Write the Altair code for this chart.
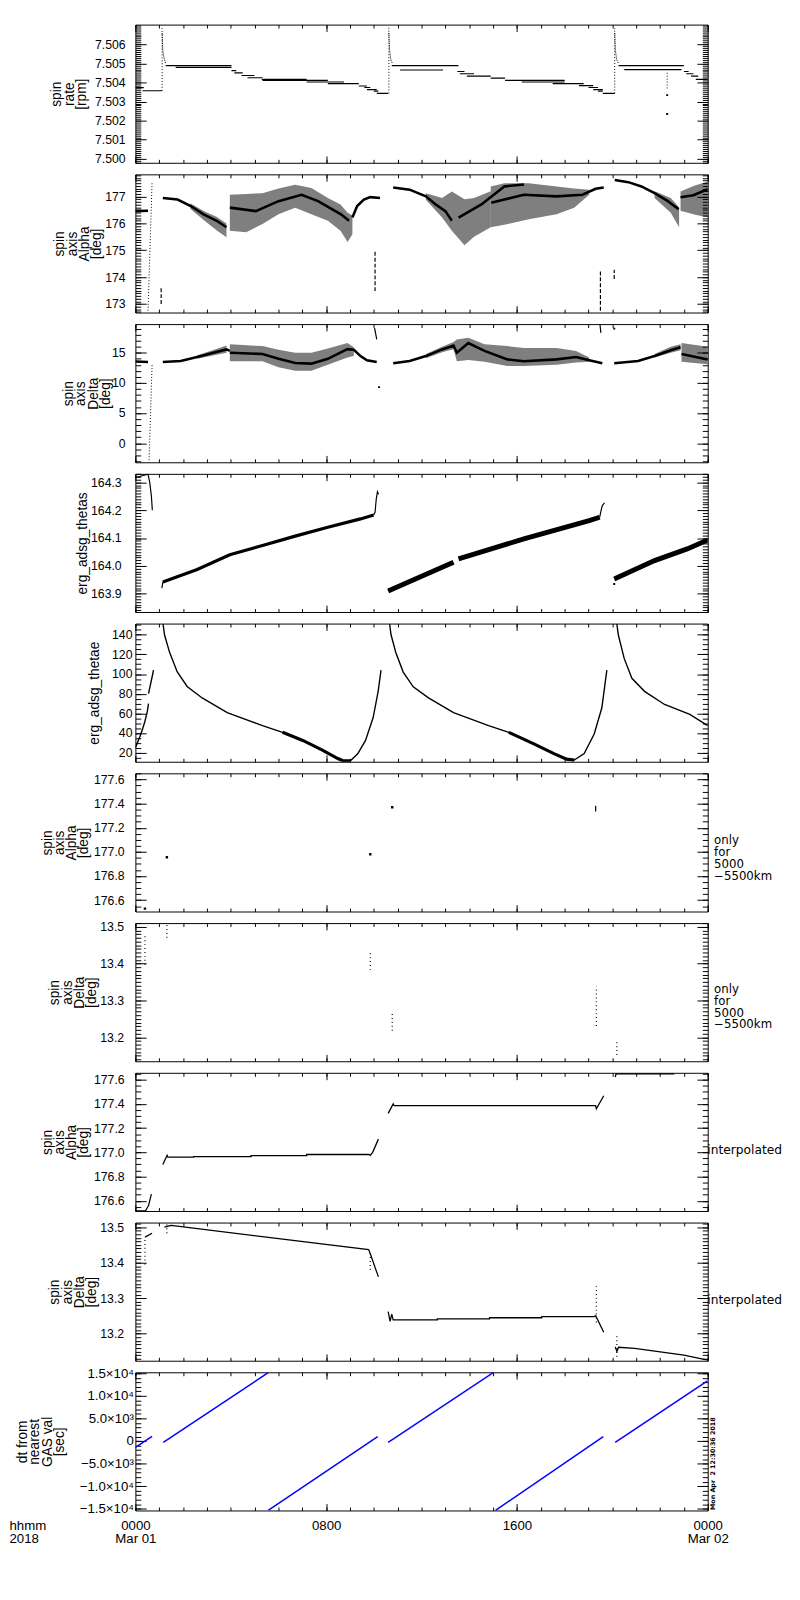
import math
import altair as alt
import pandas as pd

W, H = 584, 141
FONT = "Liberation Sans"

# ---------------- shared time axis ----------------
HOUR_TICKS = [0, 8, 16, 24]
HOUR_LABELS = [["0000", "Mar 01"], "0800", "1600", ["0000", "Mar 02"]]
HOUR_MINOR = list(range(25))
TIME_UNIT_LABEL = ["hhmm", "2018"]

# ---------------- panel 1: spin rate ----------------
RATE_TICKS = [7.500, 7.501, 7.502, 7.503, 7.504, 7.505, 7.506]
RATE_T0 = [0.00, 0.30, 1.27, 1.69, 4.03, 4.15, 4.45, 4.70, 5.30, 5.33, 7.18, 8.07, 9.37, 9.60, 9.71, 10.00, 10.12,
           10.75, 11.10, 13.50, 13.60, 13.90, 14.90, 15.50, 16.20, 17.50, 18.60, 19.00, 19.20, 19.40, 19.60,
           20.26, 20.50, 23.00, 23.10, 23.30, 23.50]
RATE_T1 = [0.35, 1.12, 4.03, 4.03, 4.23, 4.50, 4.99, 5.33, 7.18, 8.07, 8.75, 9.37, 9.71, 9.85, 10.12, 10.19, 10.60,
           13.55, 12.90, 13.80, 14.20, 14.90, 15.50, 18.00, 18.00, 18.80, 19.20, 19.40, 19.60, 19.60, 20.10,
           23.00, 22.90, 23.20, 23.40, 23.60, 24.00]
RATE_V = [7.50373, 7.50357, 7.50489, 7.50480, 7.50463, 7.50451, 7.50437, 7.50425, 7.50417, 7.50411, 7.50403,
          7.50394, 7.50382, 7.50374, 7.50363, 7.50355, 7.50343,
          7.50489, 7.50466, 7.50458, 7.50446, 7.50434, 7.50423, 7.50411, 7.50403, 7.50394, 7.50384, 7.50374,
          7.50363, 7.50355, 7.50343,
          7.50489, 7.50468, 7.50458, 7.50446, 7.50434, 7.50417]
RATE_SPIKE_T = [1.12, 10.63, 20.10, 22.30]
RATE_SPIKE_LO = [7.50357, 7.50343, 7.50343, 7.50369]
RATE_SPIKE_HI = [7.50685, 7.50694, 7.50686, 7.50460]
RATE_DECAY_T = [1.12, 1.15, 1.20, 1.27, 10.63, 10.66, 10.71, 10.78, 20.10, 20.13, 20.18, 20.26]
RATE_DECAY_V = [7.5066, 7.5057, 7.5053, 7.5050, 7.5066, 7.5057, 7.5052, 7.5050, 7.5066, 7.5057, 7.5052, 7.5050]
RATE_DECAY_SEG = [0, 0, 0, 0, 1, 1, 1, 1, 2, 2, 2, 2]
RATE_PT_T = [22.30, 22.30]
RATE_PT_V = [7.50334, 7.50235]

# ---------------- panel 2: spin axis Alpha ----------------
ALPHA_TICKS = [173, 174, 175, 176, 177]
ALPHA_T = [0.00, 0.53,
           1.15, 1.77, 2.32, 2.86, 3.41, 3.82,
           3.96, 5.05, 6.00, 6.97, 7.66, 8.62, 8.96,
           9.10, 9.30, 9.58, 9.85, 10.26,
           10.81, 11.50, 12.18, 12.59, 13.00, 13.27,
           13.55, 14.51, 15.47, 16.30,
           14.92, 16.29, 17.66, 18.75, 19.30, 19.64,
           20.10, 20.67, 21.22, 21.77, 22.30, 22.78,
           22.86, 23.40, 24.00]
ALPHA_V = [176.46, 176.47,
           176.95, 176.89, 176.65, 176.34, 176.10, 175.86,
           176.59, 176.46, 176.83, 177.07, 176.83, 176.34, 176.10,
           176.22, 176.65, 176.89, 176.98, 176.95,
           177.34, 177.26, 177.01, 176.71, 176.46, 176.10,
           176.22, 176.71, 177.38, 177.45,
           176.77, 177.07, 177.01, 177.07, 177.29, 177.34,
           177.62, 177.54, 177.38, 177.13, 176.85, 176.53,
           176.98, 177.05, 177.28]
ALPHA_SEG = [0, 0, 1, 1, 1, 1, 1, 1, 2, 2, 2, 2, 2, 2, 2, 3, 3, 3, 3, 3, 4, 4, 4, 4, 4, 4,
             5, 5, 5, 5, 6, 6, 6, 6, 6, 6, 7, 7, 7, 7, 7, 7, 8, 8, 8]
ALPHA_BAND_T = [2.30, 2.90, 3.40, 3.82,
                3.96, 4.65, 5.33, 6.00, 6.70, 7.38, 8.07, 8.60, 8.90, 9.10,
                12.18, 12.86, 13.27, 13.80, 14.20, 14.90,
                14.90, 15.47, 16.50, 17.66, 18.40, 19.03,
                21.77, 22.45, 22.80,
                22.86, 23.40, 24.00]
ALPHA_BAND_LO = [176.55, 176.10, 175.75, 175.49,
                 175.73, 175.67, 175.98, 176.34, 176.59, 176.34, 176.10, 175.73, 175.31, 175.60,
                 176.88, 176.22, 175.73, 175.19, 175.50, 175.86,
                 175.86, 175.95, 176.16, 176.34, 176.59, 177.07,
                 176.95, 176.40, 175.86,
                 176.47, 176.34, 176.22]
ALPHA_BAND_HI = [176.75, 176.45, 176.25, 176.00,
                 177.07, 177.10, 177.13, 177.30, 177.44, 177.32, 176.95, 176.71, 176.40, 176.30,
                 177.13, 176.95, 177.19, 176.90, 176.95, 177.20,
                 177.38, 177.50, 177.50, 177.38, 177.30, 177.26,
                 177.20, 176.95, 176.60,
                 177.19, 177.40, 177.56]
ALPHA_BAND_SEG = [0, 0, 0, 0, 1, 1, 1, 1, 1, 1, 1, 1, 1, 1, 2, 2, 2, 2, 2, 2, 3, 3, 3, 3, 3, 3, 4, 4, 4, 5, 5, 5]
ALPHA_DOT_T = [0.53, 0.70]
ALPHA_DOT_V = [172.75, 177.56]
ALPHA_DASH_T = [1.08, 10.05, 19.50, 20.08]
ALPHA_DASH_LO = [173.00, 173.48, 172.75, 173.93]
ALPHA_DASH_HI = [173.60, 175.00, 174.27, 174.27]

# ---------------- panel 3: spin axis Delta ----------------
DELTA_TICKS = [0, 5, 10, 15]
DELTA_T = [0.00, 0.53,
           1.15, 1.90, 2.59, 3.27, 3.82, 3.96,
           3.96, 5.33, 6.00, 6.70, 7.38, 8.07, 8.89, 9.16, 9.44, 9.71, 10.12,
           10.03, 10.12,
           10.81, 11.50, 12.18, 12.86, 13.34, 13.48, 13.96, 14.64, 15.60, 16.29, 17.66, 18.48, 19.03, 19.58,
           19.48, 19.52,
           20.08, 21.08, 21.77, 22.45, 22.86,
           22.90, 24.00]
DELTA_V = [13.55, 13.45,
           13.47, 13.64, 14.30, 15.00, 15.55, 15.30,
           15.00, 14.80, 14.00, 13.30, 13.20, 14.00, 15.60, 15.50, 14.45, 13.75, 13.47,
           19.10, 17.20,
           13.25, 13.64, 14.45, 15.55, 16.20, 15.00, 16.60, 15.30, 13.90, 13.60, 13.90, 14.30, 13.75, 13.25,
           19.75, 18.30,
           13.25, 13.64, 14.45, 15.40, 15.90,
           14.80, 13.90]
DELTA_SEG = [0, 0, 1, 1, 1, 1, 1, 1, 2, 2, 2, 2, 2, 2, 2, 2, 2, 2, 2, 3, 3,
             4, 4, 4, 4, 4, 4, 4, 4, 4, 4, 4, 4, 4, 4, 5, 5, 6, 6, 6, 6, 6, 7, 7]
DELTA_BAND_T = [2.60, 3.30, 3.82,
                3.96, 5.33, 6.00, 6.70, 7.38, 8.07, 8.89, 9.16,
                12.18, 12.86, 13.34, 13.48, 13.96, 14.64, 15.60, 16.29, 17.66, 18.48, 19.03,
                21.77, 22.45, 22.86,
                22.90, 24.00]
DELTA_BAND_LO = [14.00, 14.60, 15.00,
                 13.60, 13.60, 12.60, 12.00, 12.00, 13.00, 14.20, 14.45,
                 14.10, 15.10, 15.60, 13.60, 13.80, 13.50, 12.80, 12.80, 13.00, 13.40, 13.50,
                 14.20, 15.00, 15.40,
                 13.50, 13.10]
DELTA_BAND_HI = [14.60, 15.50, 16.20,
                 16.40, 16.10, 15.50, 15.00, 15.00, 15.70, 16.60, 15.90,
                 14.80, 16.00, 16.80, 17.20, 17.50, 16.40, 16.10, 15.80, 15.80, 15.30, 14.20,
                 14.80, 16.00, 16.40,
                 16.60, 16.00]
DELTA_BAND_SEG = [0, 0, 0, 1, 1, 1, 1, 1, 1, 1, 1, 2, 2, 2, 2, 2, 2, 2, 2, 2, 2, 2, 3, 3, 3, 4, 4]
DELTA_DOT_T = [0.57, 0.70]
DELTA_DOT_V = [-3.30, 13.10]
DELTA_PT_T = [10.22, 20.08]
DELTA_PT_V = [9.30, 19.00]

# ---------------- panel 4: erg_adsg_thetas ----------------
THETAS_TICKS = [163.9, 164.0, 164.1, 164.2, 164.3]
THETAS_T = [0.00, 0.53, 0.60, 0.67, 0.71,
            1.15, 2.59, 3.96, 5.33, 6.70, 8.07, 9.44, 9.99,
            1.11, 1.15,
            9.99, 10.05, 10.10, 10.15, 10.20,
            10.60, 10.81, 13.34,
            13.55, 16.29, 19.03, 19.47,
            19.47, 19.53, 19.58, 19.67,
            20.08, 21.77, 23.14, 24.00]
THETAS_V = [164.318, 164.330, 164.300, 164.252, 164.200,
            163.942, 163.987, 164.040, 164.073, 164.107, 164.139, 164.169, 164.183,
            163.920, 163.942,
            164.183, 164.193, 164.240, 164.267, 164.258,
            163.910, 163.918, 164.013,
            164.025, 164.097, 164.163, 164.175,
            164.175, 164.200, 164.217, 164.227,
            163.953, 164.019, 164.061, 164.093]
THETAS_SEG = [0, 0, 0, 0, 0, 1, 1, 1, 1, 1, 1, 1, 1, 2, 2, 3, 3, 3, 3, 3,
              4, 4, 4, 5, 5, 5, 5, 6, 6, 6, 6, 7, 7, 7, 7]
THETAS_PT_T = [20.08]
THETAS_PT_V = [163.935]

# ---------------- panel 5: erg_adsg_thetae ----------------
THETAE_TICKS = [20, 40, 60, 80, 100, 120, 140]
THETAE_T = [0.00, 0.10, 0.20, 0.30, 0.40, 0.50, 0.55,
            0.55, 0.62, 0.70, 0.76,
            1.16, 1.22, 1.43, 1.75, 2.17, 2.80, 3.85, 5.33, 6.17, 7.02, 7.86, 8.49, 8.70, 9.02, 9.33, 9.65,
            9.97, 10.18, 10.30,
            10.66, 10.72, 10.92, 11.23, 11.65, 12.29, 13.34, 14.81, 15.66, 16.71, 17.55, 18.08, 18.40, 18.82,
            19.24, 19.56, 19.77,
            20.19, 20.25, 20.50, 20.82, 21.35, 22.19, 23.25, 24.00,
            6.17, 7.02, 7.86, 8.49, 8.70, 9.02,
            15.66, 16.71, 17.55, 18.08, 18.40]
THETAE_V = [25.0, 31.0, 37.0, 44.0, 52.0, 62.0, 70.0,
            80.0, 88.0, 97.0, 104.0,
            151.0, 140.0, 122.4, 102.4, 87.4, 75.7, 60.7, 47.4, 40.7, 32.4, 22.4, 14.0, 11.7, 11.7, 19.0, 32.4,
            55.7, 82.4, 104.0,
            151.0, 140.0, 122.0, 102.0, 87.0, 75.7, 60.7, 47.4, 40.7, 29.0, 19.0, 13.4, 12.4, 19.0,
            39.0, 65.7, 104.0,
            151.0, 140.0, 115.7, 95.7, 82.4, 69.0, 59.0, 47.4,
            40.7, 32.4, 22.4, 14.0, 11.7, 11.7,
            40.7, 29.0, 19.0, 13.4, 12.4]
THETAE_SEG = [0] * 7 + [1] * 4 + [2] * 19 + [3] * 17 + [4] * 8 + [5] * 6 + [6] * 5

# ---------------- panel 6: Alpha only for 5000-5500 km ----------------
A5K_TICKS = [176.6, 176.8, 177.0, 177.2, 177.4, 177.6]
A5K_PT_T = [0.40, 1.32, 9.85, 10.77]
A5K_PT_V = [176.53, 176.956, 176.98, 177.37]
A5K_BAR_T = [19.30]
A5K_BAR_LO = [177.335]
A5K_BAR_HI = [177.383]

# ---------------- panel 7: Delta only for 5000-5500 km ----------------
D5K_TICKS = [13.2, 13.3, 13.4, 13.5]
D5K_T = [0.40, 1.32, 9.85, 10.77, 19.33, 20.19]
D5K_LO = [13.397, 13.470, 13.383, 13.218, 13.231, 13.152]
D5K_HI = [13.477, 13.507, 13.434, 13.267, 13.338, 13.194]

# ---------------- panel 8: Alpha interpolated ----------------
AINT_T = [0.00, 0.42, 0.55, 0.67,
          1.15, 1.33, 1.36, 2.45, 2.45, 4.85, 4.85, 7.18, 7.18, 9.80, 9.85, 9.95, 10.19,
          10.60, 10.81, 10.85, 19.30, 19.33, 19.64,
          20.12, 20.16, 22.60]
AINT_V = [176.515, 176.515, 176.560, 176.655,
          176.900, 176.975, 176.960, 176.960, 176.965, 176.965, 176.973, 176.973, 176.982, 176.982, 176.975,
          177.000, 177.109,
          177.322, 177.400, 177.385, 177.385, 177.360, 177.467,
          177.622, 177.649, 177.649]
AINT_SEG = [0] * 4 + [1] * 13 + [2] * 6 + [3] * 3

# ---------------- panel 9: Delta interpolated ----------------
DINT_T = [0.40, 0.70,
          1.22, 1.50, 9.78, 9.85, 10.19,
          10.60, 10.68, 10.75, 10.81, 12.66, 12.66, 14.85, 14.85, 17.04, 17.04, 19.23, 19.30, 19.64,
          20.12, 20.19, 20.26, 20.94, 23.00, 24.00]
DINT_V = [13.472, 13.483,
          13.500, 13.505, 13.437, 13.425, 13.360,
          13.262, 13.235, 13.255, 13.239, 13.239, 13.242, 13.242, 13.245, 13.245, 13.248, 13.248, 13.251, 13.204,
          13.163, 13.150, 13.162, 13.159, 13.140, 13.126]
DINT_SEG = [0] * 2 + [1] * 5 + [2] * 13 + [3] * 6
DINT_DOT_T = [0.40, 1.32, 9.85, 19.33, 20.19]
DINT_DOT_LO = [13.395, 13.483, 13.380, 13.232, 13.135]
DINT_DOT_HI = [13.472, 13.510, 13.435, 13.334, 13.195]

# ---------------- panel 10: dt from nearest GAS val ----------------
DT_TICKS = [-15000, -10000, -5000, 0, 5000, 10000, 15000]
DT_TICK_LABELS = ["\u22121.5\u00d710\u2074", "\u22121.0\u00d710\u2074", "\u22125.0\u00d710\u00b3", "0",
                  "5.0\u00d710\u00b3", "1.0\u00d710\u2074", "1.5\u00d710\u2074"]
DT_T = [0.00, 0.70, 1.17, 5.57, 5.57, 10.16, 10.60, 15.02, 15.10, 19.62, 20.12, 23.99]
DT_V = [-1388, 1016, -295, 15150, -15370, 950, -295, 15200, -15370, 950, -295, 13320]
DT_SEG = [0, 0, 1, 1, 2, 2, 3, 3, 4, 4, 5, 5]

STAMP = "Mon Apr\u00a0 2 12:30:36 2018"
NOTE_5K = ["\u00a0only", "for", "5000", "\u22125500km"]
NOTE_INTERP = "interpolated"


# ================= helpers =================
def xs():
    return alt.Scale(domain=[0, 24], nice=False, zero=False)


def ys(dom):
    return alt.Scale(domain=dom, nice=False, zero=False)


def X(field="t"):
    return alt.X(f"{field}:Q", scale=xs(), axis=None)


def Y(field, dom):
    return alt.Y(f"{field}:Q", scale=ys(dom), axis=None)


def frame(t, v, seg):
    return pd.DataFrame({"t": t, "v": v, "seg": seg, "i": list(range(len(t)))})


def lines(df, dom, segs=None, width=1.2, color="black", dash=None):
    d = df if segs is None else df[df["seg"].isin(segs)]
    kw = dict(color=color, strokeWidth=width, clip=True)
    if dash is not None:
        kw["strokeDash"] = dash
    return alt.Chart(d).mark_line(**kw).encode(x=X(), y=Y("v", dom), detail="seg:N", order="i:Q")


def bands(t, lo, hi, seg, dom, opacity=0.5):
    df = pd.DataFrame({"t": t, "lo": lo, "hi": hi, "seg": seg})
    return alt.Chart(df).mark_area(color="black", opacity=opacity, clip=True).encode(
        x=X(), y=Y("lo", dom), y2="hi:Q", detail="seg:N")


def vrules(t, lo, hi, dom, dash=None, width=1.0):
    df = pd.DataFrame({"t": t, "lo": lo, "hi": hi})
    kw = dict(color="black", strokeWidth=width, clip=True)
    if dash is not None:
        kw["strokeDash"] = dash
    return alt.Chart(df).mark_rule(**kw).encode(x=X(), y=Y("lo", dom), y2="hi:Q")


def points(t, v, dom, size=5):
    df = pd.DataFrame({"t": t, "v": v})
    return alt.Chart(df).mark_square(color="black", size=size, opacity=1, clip=True).encode(x=X(), y=Y("v", dom))


def tick_list(lo, hi, step, nd):
    k0 = math.ceil(lo / step - 1e-9)
    k1 = math.floor(hi / step + 1e-9)
    return [round(k * step, nd) for k in range(k0, k1 + 1)]


def js(lab):
    if isinstance(lab, list):
        return "[" + ", ".join("'" + s + "'" for s in lab) + "]"
    return "'" + lab + "'"


def label_expr(values, labels):
    parts = [f"abs(datum.value - ({v})) < 1e-6 ? {js(l)} : " for v, l in zip(values, labels)]
    return "".join(parts) + "''"


def tick_axis(orient, offset, values, size):
    return alt.Axis(orient=orient, offset=offset, values=values, ticks=True, tickSize=size, tickWidth=1,
                    tickColor="black", labels=False, domain=False, grid=False, title=None)


def note_axis(title, tx, ty, angle=0, align="left", baseline="middle", size=12, lh=12,
              weight="normal", font="DejaVu Sans"):
    return alt.Axis(orient="right", ticks=False, labels=False, domain=False, grid=False, title=title,
                    titleX=tx, titleY=ty, titleAngle=angle, titleAlign=align, titleBaseline=baseline,
                    titleFontSize=size, titleLineHeight=lh, titleFontWeight=weight, titleFont=font,
                    titleColor="black")


def carrier(dom, xa, ya):
    df = pd.DataFrame({"t": [0.0, 24.0], "v": [dom[0], dom[1]]})
    return alt.Chart(df).mark_point(opacity=0, size=1).encode(
        x=alt.X("t:Q", scale=xs(), axis=xa),
        y=alt.Y("v:Q", scale=ys(dom), axis=ya))


def panel(dom, major, minor_step, nd, title, tx, lp, data_layers, fmt=None, expr=None,
          last=False, note=None, lab_size=12.5):
    minor = tick_list(dom[0], dom[1], minor_step, nd)
    ykw = dict(orient="left", values=major, ticks=False, domain=False, grid=False, labelPadding=lp,
               labelFontSize=lab_size, labelFlush=False, labelOverlap=False, labelColor="black",
               title=title, titleX=tx, titleY=H / 2, titleAngle=270, titleAlign="center",
               titleBaseline="top", titleLineHeight=12.5, titleFontSize=14, titleFontWeight="normal",
               titleColor="black")
    if expr is not None:
        ykw["labelExpr"] = expr
    else:
        ykw["format"] = fmt
    ymain = alt.Axis(**ykw)
    xmain = None
    if last:
        xmain = alt.Axis(orient="bottom", values=HOUR_TICKS, labelExpr=label_expr(HOUR_TICKS, HOUR_LABELS),
                         ticks=False, domain=False, grid=False, labelPadding=8, labelFontSize=13.5,
                         labelLineHeight=13.5, labelFlush=False, labelOverlap=False, labelColor="black",
                         title=TIME_UNIT_LABEL, titleX=-129, titleY=8, titleAlign="left",
                         titleBaseline="top", titleAngle=0, titleFontSize=13.5, titleLineHeight=13.5,
                         titleFontWeight="normal", titleColor="black")
    layers = list(data_layers)
    layers.append(carrier(dom, xmain, ymain))
    layers.append(carrier(dom, tick_axis("top", -H, HOUR_TICKS, 7), tick_axis("right", -W, major, 11)))
    layers.append(carrier(dom, tick_axis("top", -H, HOUR_MINOR, 3.5), tick_axis("right", -W, minor, 5.5)))
    layers.append(carrier(dom, tick_axis("bottom", -H, HOUR_TICKS, 7), tick_axis("left", -W, major, 11)))
    layers.append(carrier(dom, tick_axis("bottom", -H, HOUR_MINOR, 3.5), tick_axis("left", -W, minor, 5.5)))
    if note is not None:
        layers.append(carrier(dom, None, note))
    return alt.layer(*layers).resolve_axis(x="independent", y="independent").properties(width=W, height=H)


SPIN = "spin"
AXIS_W = "axis"

# ---- panel 1
d1 = [7.49979, 7.50704]
steps_df = pd.DataFrame({"t0": RATE_T0, "t1": RATE_T1, "v": RATE_V})
p1_layers = [
    alt.Chart(steps_df).mark_rule(color="black", strokeWidth=1.2, clip=True).encode(
        x=X("t0"), x2="t1:Q", y=Y("v", d1)),
    vrules(RATE_SPIKE_T, RATE_SPIKE_LO, RATE_SPIKE_HI, d1, dash=[1, 2]),
    lines(frame(RATE_DECAY_T, RATE_DECAY_V, RATE_DECAY_SEG), d1, width=1.0, dash=[1, 1]),
    points(RATE_PT_T, RATE_PT_V, d1, size=4),
]
p1 = panel(d1, RATE_TICKS, 0.0001, 4, [SPIN, "rate", "[rpm]"], -87, 10.5, p1_layers, fmt=".3f")

# ---- panel 2
d2 = [172.68, 177.83]
a_df = frame(ALPHA_T, ALPHA_V, ALPHA_SEG)
p2_layers = [
    bands(ALPHA_BAND_T, ALPHA_BAND_LO, ALPHA_BAND_HI, ALPHA_BAND_SEG, d2),
    lines(a_df, d2, width=2.6),
    lines(frame(ALPHA_DOT_T, ALPHA_DOT_V, [0, 0]), d2, width=1.0, dash=[1, 2]),
    vrules(ALPHA_DASH_T, ALPHA_DASH_LO, ALPHA_DASH_HI, d2, dash=[4, 2], width=1.2),
]
p2 = panel(d2, ALPHA_TICKS, 0.1, 1, [SPIN, AXIS_W, "Alpha", "[deg]"], -84, 10.5, p2_layers, fmt="d")

# ---- panel 3
d3 = [-3.16, 19.75]
dl_df = frame(DELTA_T, DELTA_V, DELTA_SEG)
p3_layers = [
    bands(DELTA_BAND_T, DELTA_BAND_LO, DELTA_BAND_HI, DELTA_BAND_SEG, d3),
    lines(dl_df, d3, segs=[0, 1, 2, 4, 6, 7], width=2.6),
    lines(dl_df, d3, segs=[3, 5], width=1.2),
    lines(frame(DELTA_DOT_T, DELTA_DOT_V, [0, 0]), d3, width=1.0, dash=[1, 2]),
    points(DELTA_PT_T, DELTA_PT_V, d3, size=4),
]
p3 = panel(d3, DELTA_TICKS, 1, 0, [SPIN, AXIS_W, "Delta", "[deg]"], -75, 10.5, p3_layers, fmt="d")

# ---- panel 4
d4 = [163.834, 164.331]
ts_df = frame(THETAS_T, THETAS_V, THETAS_SEG)
p4_layers = [
    lines(ts_df, d4, segs=[0, 2, 3, 6], width=1.2),
    lines(ts_df, d4, segs=[1], width=3.2),
    lines(ts_df, d4, segs=[4, 5, 7], width=5),
    points(THETAS_PT_T, THETAS_PT_V, d4, size=4),
]
p4 = panel(d4, THETAS_TICKS, 0.01, 2, "erg_adsg_thetas", -61, 14.5, p4_layers, fmt=".1f")

# ---- panel 5
d5 = [10.7, 151.4]
te_df = frame(THETAE_T, THETAE_V, THETAE_SEG)
p5_layers = [
    lines(te_df, d5, segs=[0, 1, 2, 3, 4], width=1.4),
    lines(te_df, d5, segs=[5, 6], width=3.2),
]
p5 = panel(d5, THETAE_TICKS, 5, 0, "erg_adsg_thetae", -49, 3.5, p5_layers, fmt="d")

# ---- panel 6
d6 = [176.506, 177.651]
p6_layers = [
    points(A5K_PT_T, A5K_PT_V, d6, size=6),
    vrules(A5K_BAR_T, A5K_BAR_LO, A5K_BAR_HI, d6, width=1.2),
]
p6 = panel(d6, A5K_TICKS, 0.05, 2, [SPIN, AXIS_W, "Alpha", "[deg]"], -97, 11.5, p6_layers, fmt=".1f",
           note=note_axis(NOTE_5K, 6, 68))

# ---- panel 7
d7 = [13.135, 13.510]
p7_layers = [vrules(D5K_T, D5K_LO, D5K_HI, d7, dash=[1, 3], width=1.2)]
p7 = panel(d7, D5K_TICKS, 0.01, 2, [SPIN, AXIS_W, "Delta", "[deg]"], -89, 12, p7_layers, fmt=".1f",
           note=note_axis(NOTE_5K, 6, 67))

# ---- panel 8
d8 = [176.515, 177.657]
p8_layers = [lines(frame(AINT_T, AINT_V, AINT_SEG), d8, width=1.3)]
p8 = panel(d8, A5K_TICKS, 0.05, 2, [SPIN, AXIS_W, "Alpha", "[deg]"], -97, 11.5, p8_layers, fmt=".1f",
           note=note_axis(NOTE_INTERP, -1, 78.5, size=12.5))

# ---- panel 9
d9 = [13.124, 13.513]
p9_layers = [
    lines(frame(DINT_T, DINT_V, DINT_SEG), d9, width=1.3),
    vrules(DINT_DOT_T, DINT_DOT_LO, DINT_DOT_HI, d9, dash=[1, 3], width=1.2),
]
p9 = panel(d9, D5K_TICKS, 0.01, 2, [SPIN, AXIS_W, "Delta", "[deg]"], -89, 12, p9_layers, fmt=".1f",
           note=note_axis(NOTE_INTERP, -1, 78.5, size=12.5))

# ---- panel 10
d10 = [-15400, 15230]
p10_layers = [lines(frame(DT_T, DT_V, DT_SEG), d10, width=1.5, color="#0000ff")]
p10 = panel(d10, DT_TICKS, 1000, 0, ["dt from", "nearest", "GAS val", "[sec]"], -122, 2, p10_layers,
            expr=label_expr(DT_TICKS, DT_TICK_LABELS), last=True, lab_size=13.5,
            note=note_axis(STAMP, 1.5, H - 1, angle=270, align="left", baseline="top", size=6.5,
                           lh=8, weight="bold"))

chart = alt.vconcat(p1, p2, p3, p4, p5, p6, p7, p8, p9, p10, spacing=11.8, bounds="flush").properties(
    padding={"left": 0, "top": 0, "right": 10, "bottom": 10},
    background="white",
).configure_view(
    stroke="black", strokeWidth=1
).configure_axis(
    labelFont=FONT, titleFont=FONT, labelColor="black", titleColor="black", tickColor="black", grid=False
)

chart.save("out.html", embed_options={"renderer": "svg", "actions": False})
